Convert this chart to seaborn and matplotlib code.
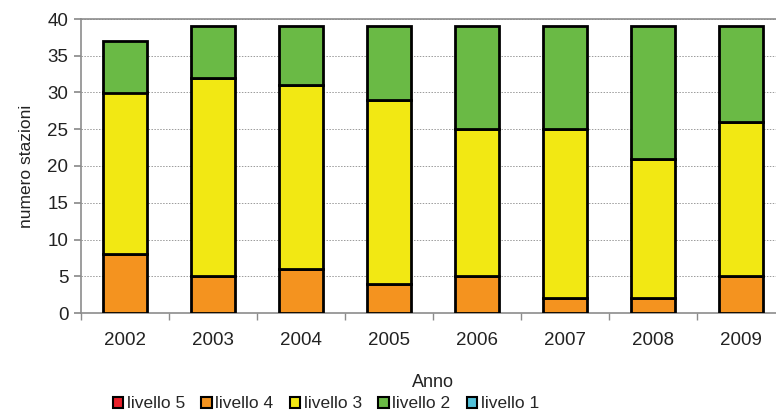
import matplotlib
matplotlib.use("Agg")
import matplotlib.pyplot as plt
import matplotlib.patches as mpatches
import seaborn as sns
import pandas as pd

anni = ["2002", "2003", "2004", "2005", "2006", "2007", "2008", "2009"]
livello_5 = [0, 0, 0, 0, 0, 0, 0, 0]
livello_4 = [8, 5, 6, 4, 5, 2, 2, 5]
livello_3 = [22, 27, 25, 25, 20, 23, 19, 21]
livello_2 = [7, 7, 8, 10, 14, 14, 18, 13]
livello_1 = [0, 0, 0, 0, 0, 0, 0, 0]

serie = ["livello 5", "livello 4", "livello 3", "livello 2", "livello 1"]
colori = {"livello 5": "#e8202a", "livello 4": "#f4931f", "livello 3": "#f2e813",
          "livello 2": "#6aba45", "livello 1": "#52c1d9"}

df = pd.DataFrame({"Anno": anni, "livello 5": livello_5, "livello 4": livello_4,
                   "livello 3": livello_3, "livello 2": livello_2, "livello 1": livello_1})

sns.set_theme(style="white")
plt.rcParams["font.family"] = ["Liberation Sans", "DejaVu Sans"]

fig = plt.figure(figsize=(7.76, 4.12), dpi=100)
ax = fig.add_axes([81 / 776, 1 - 313 / 412, 704 / 776, 294 / 412])

base = [0] * len(anni)
for s in serie:
    vals = df[s].tolist()
    if any(v > 0 for v in vals):
        sns.barplot(x=df["Anno"], y=vals, bottom=base, color=colori[s], width=0.5,
                    edgecolor="black", linewidth=2, ax=ax, saturation=1, zorder=3)
    base = [b + v for b, v in zip(base, vals)]

ax.set_xlim(-0.5, 7.5)
ax.set_ylim(0, 40)
ax.set_yticks(range(0, 41, 5))
ax.yaxis.grid(True, linestyle=(0, (1.5, 1.5)), color="#9a9a9a", linewidth=0.7, zorder=0)
ax.set_axisbelow(True)
for sp in ["left", "top", "bottom", "right"]:
    ax.spines[sp].set_color("#8c8c8c")
    ax.spines[sp].set_linewidth(1.2)

ax.set_xticks([i + 0.5 for i in range(-1, 8)], minor=True)
ax.tick_params(axis="x", which="minor", length=5, color="#8c8c8c", direction="out", bottom=True)
ax.tick_params(axis="x", which="major", length=0, labelsize=13.5, pad=14, colors="#222222")
ax.tick_params(axis="y", length=5, color="#8c8c8c", direction="out", left=True, labelsize=13.5,
               colors="#222222", pad=4)
ax.set_xlabel("Anno", fontsize=13, labelpad=18, color="#222222")
ax.set_ylabel("numero stazioni", fontsize=12.5, labelpad=10, color="#222222")

handles = [mpatches.Patch(facecolor=colori[s], edgecolor="black", linewidth=1.5, label=s) for s in serie]
fig.legend(handles=handles, loc="center left", bbox_to_anchor=(104 / 776, 1 - 404 / 412), ncol=5,
           frameon=False, fontsize=12.5, handlelength=0.6, handleheight=0.6, handletextpad=0.2,
           columnspacing=0.95, borderpad=0)

fig.savefig("out.png", dpi=100)
